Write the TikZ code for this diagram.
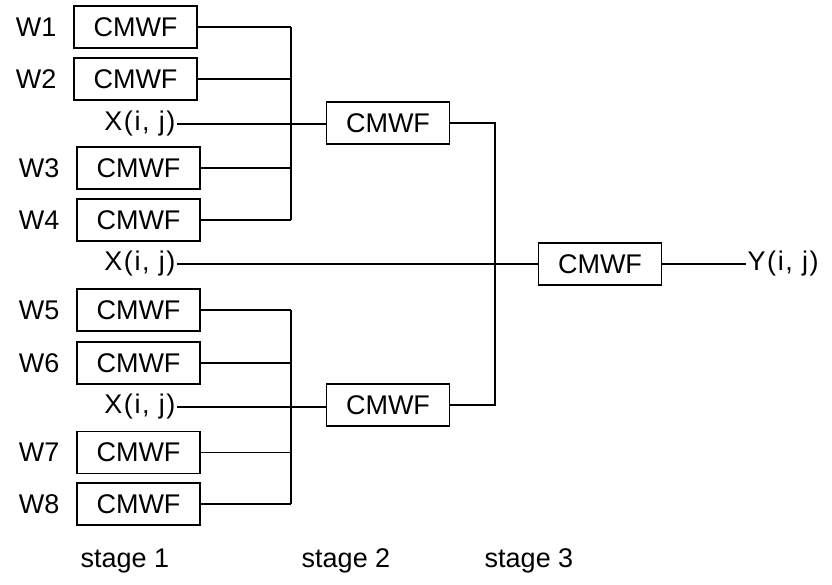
\documentclass[tikz,border=0pt]{standalone}
\usepackage{fontspec}
\setmainfont{Liberation Sans}
\newfontfamily\spacedfont[LetterSpace=6]{Liberation Sans}
\begin{document}
\begin{tikzpicture}[x=1pt,y=-1pt,
  font=\fontsize{27}{30}\selectfont,
  every path/.style={line width=1.1pt},
  filt/.style={draw, line width=1.1pt, minimum width=123pt, minimum height=42pt, inner sep=0pt},
  wlab/.style={anchor=east, inner sep=0pt},
  xlab/.style={anchor=east, inner sep=1pt, font=\fontsize{27}{30}\spacedfont},
  stlab/.style={anchor=base, inner sep=0pt}]
\useasboundingbox (0,0) rectangle (832,584);
% stage 1 filters
\node[filt] (w1) at (135.5,27) {CMWF};
\node[filt] (w2) at (135.5,79) {CMWF};
\node[filt] (w3) at (138.5,168) {CMWF};
\node[filt] (w4) at (138.5,220) {CMWF};
\node[filt] (w5) at (138.5,310) {CMWF};
\node[filt] (w6) at (138.5,363) {CMWF};
\node[filt] (w7) at (138.5,452.5) {CMWF};
\node[filt] (w8) at (138.5,504) {CMWF};
% weight labels
\node[wlab] (l1) at (57,27) {W1};
\node[wlab] (l2) at (57,79) {W2};
\node[wlab] (l3) at (60,168) {W3};
\node[wlab] (l4) at (60,220) {W4};
\node[wlab] (l5) at (60,310) {W5};
\node[wlab] (l6) at (60,363) {W6};
\node[wlab] (l7) at (60,452.5) {W7};
\node[wlab] (l8) at (60,504) {W8};
% inputs
\node[xlab] (x1) at (177,124) {X(i, j)};
\node[xlab] (x2) at (177,264) {X(i, j)};
\node[xlab] (x3) at (177,407) {X(i, j)};
% stage 2 and 3
\node[filt] (s2a) at (388,123) {CMWF};
\node[filt] (s2b) at (388,405) {CMWF};
\node[filt] (s3) at (600,264) {CMWF};
\node[anchor=west, inner sep=1pt, font=\fontsize{27}{30}\spacedfont] (y) at (746,264) {Y(i, j)};
% buses
\coordinate (busA) at (291,0);
\coordinate (busB) at (495,0);
\foreach \n in {w1,w2,w3,w4,w5,w6,w7,w8}
  \draw (\n.east) -- (\n.east -| busA);
\draw (w1.east -| busA) -- (w4.east -| busA);
\draw (w5.east -| busA) -- (w8.east -| busA);
\draw (x1.east) -- (x1.east -| s2a.west);
\draw (x3.east) -- (x3.east -| s2b.west);
\draw (x2.east) -- (s3.west);
\draw (s2a.east) -- (s2a.east -| busB) -- (s2b.east -| busB) -- (s2b.east);
\draw (s3.east) -- (y.west);
% stage labels
\node[stlab] (st1) at (125,567) {stage 1};
\node[stlab] (st2) at (346,567) {stage 2};
\node[stlab] (st3) at (529,567) {stage 3};
\end{tikzpicture}
\end{document}
